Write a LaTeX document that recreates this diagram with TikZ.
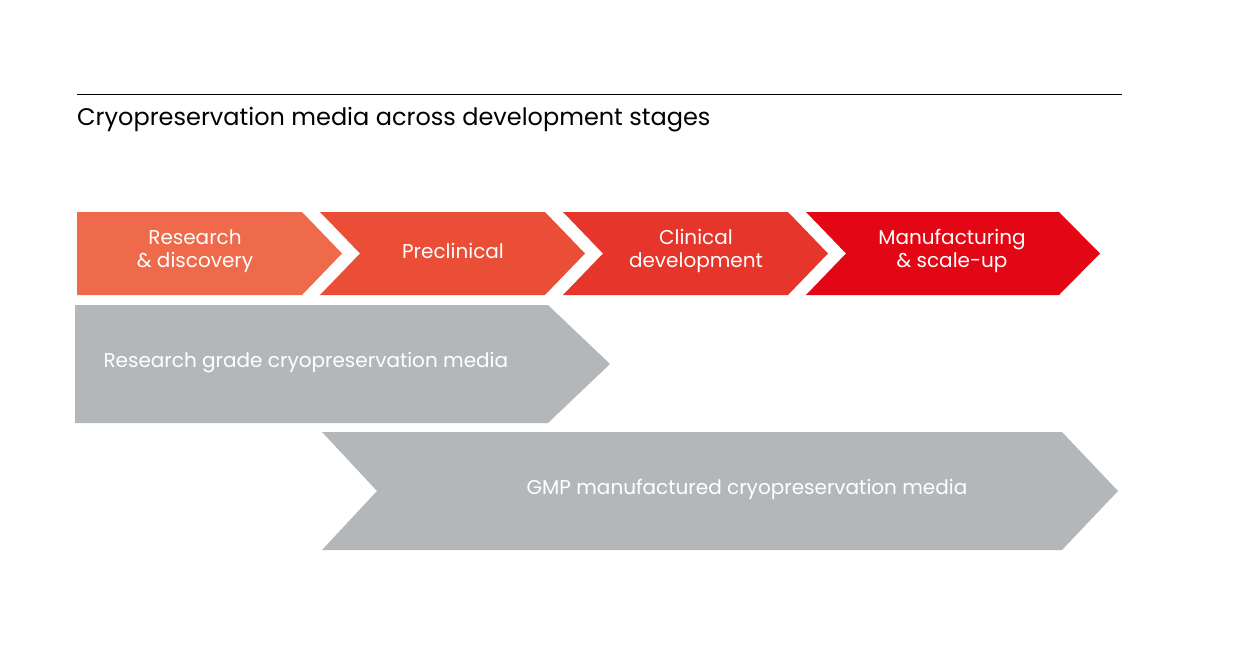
\documentclass[tikz,border=0pt]{standalone}
\usepackage{fontspec}
\setmainfont{Poppins}
\begin{document}
\begin{tikzpicture}[x=1pt,y=-1pt,
  red1/.style={fill=c1},
  lbl/.style={text=white,font=\fontsize{20}{23}\selectfont,align=center},
  glbl/.style={text=white,font=\fontsize{20}{23}\selectfont}]
\definecolor{c1}{HTML}{EE6A4B}
\definecolor{c2}{HTML}{EA4E36}
\definecolor{c3}{HTML}{E6352A}
\definecolor{c4}{HTML}{E30614}
\definecolor{gr}{HTML}{B4B7BA}
\useasboundingbox (0,0) rectangle (1240,650);
\draw[line width=1pt] (77,95) -- (1122,95);
\node[anchor=base west,inner sep=0,font=\fontsize{24}{28}\selectfont] (title) at (77,126) {Cryopreservation media across development stages};
% red chevrons
\fill[c1] (77,212) -- (302,212) -- (342,253.5) -- (302,295) -- (77,295) -- cycle;
\fill[c2] (320,212) -- (545,212) -- (585,253.5) -- (545,295) -- (320,295) -- (360,253.5) -- cycle;
\fill[c3] (563,212) -- (788,212) -- (828,253.5) -- (788,295) -- (563,295) -- (603,253.5) -- cycle;
\fill[c4] (806,212) -- (1059,212) -- (1100,253.5) -- (1059,295) -- (806,295) -- (846,253.5) -- cycle;
\node[lbl] (s1) at (195,251) {Research\\\& discovery};
\node[lbl] (s2) at (453,251) {Preclinical};
\node[lbl] (s3) at (696,251) {Clinical\\development};
\node[lbl] (s4) at (952,251) {Manufacturing\\\& scale-up};
% gray
\fill[gr] (75,305) -- (548,305) -- (610,364) -- (548,423) -- (75,423) -- cycle;
\fill[gr] (322,432) -- (1062,432) -- (1118,491) -- (1062,550) -- (322,550) -- (377,491) -- cycle;
\node[glbl,anchor=west] (g1) at (100,363) {Research grade cryopreservation media};
\node[glbl] (g2) at (747,489) {GMP manufactured cryopreservation media};
\end{tikzpicture}
\end{document}
